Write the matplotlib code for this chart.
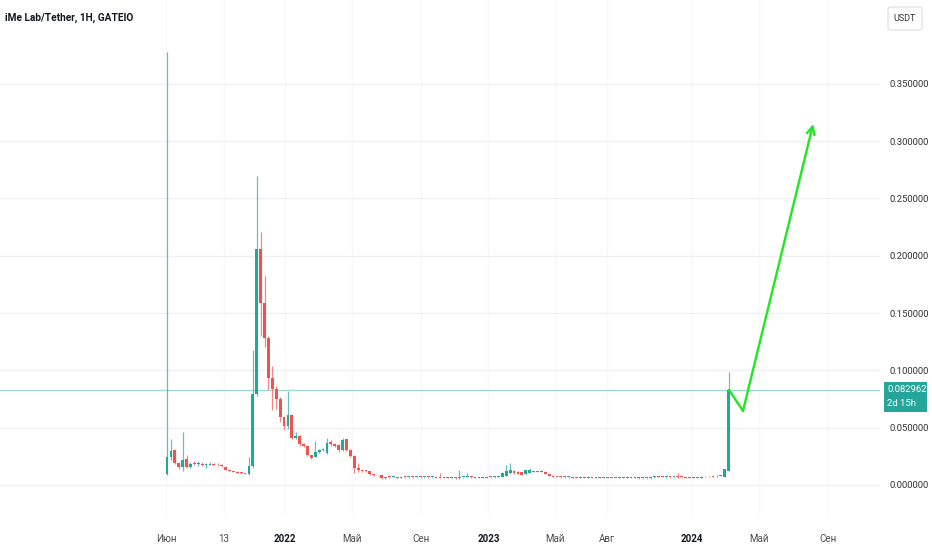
import numpy as np
import pandas as pd
import matplotlib
matplotlib.use("Agg")
import matplotlib.pyplot as plt
import matplotlib.dates as mdates
from matplotlib.patches import FancyBboxPatch, Rectangle

# weekly candles, first one in early June 2021
first_candle = "2021-06-03"

opens = [
    .0096, .0244, .0305, .0192, .0157, .0225, .0160, .0185, .0180, .0185,
    .0175, .0178, .0182, .0176, .0172, .0160, .0131, .0122, .0113, .0108,
    .0102, .0096, .0166, .0794, .206, .159, .128, .0934, .0838, .075,
    .0593, .0515, .0611, .0410, .0428, .0358, .0340, .0262, .0244, .0288,
    .0305, .0279, .0375, .0358, .0349, .0305, .0402, .0305, .0253, .0148,
    .0131, .0125, .0120, .0096, .0087, .0087, .0061, .0068, .0066, .0068,
    .0065, .0067, .0066, .0069, .0066, .0068, .0067, .0069, .0066, .0067,
    .0068, .0063, .0066, .0062, .0065, .0058, .0066, .0069, .0071, .0067,
    .0064, .0062, .0065, .0068, .0066, .0070, .0072, .0079, .0107, .0125,
    .0116, .0110, .0093, .0107, .0116, .0116, .0116, .0116, .0093, .0081,
    .0072, .0070, .0068, .0066, .0067, .0065, .0064, .0065, .0063, .0064,
    .0062, .0063, .0062, .0063, .0061, .0062, .0061, .0063, .0062, .0063,
    .0061, .0063, .0058, .0060, .0058, .0068, .0075, .0070, .0068, .0069,
    .0067, .0072, .0068, .0066, .0065, .0063, .0064, .0063, .0078, .0078,
    .0078, .0074, .0080, .0072, .0125,
]
closes = [
    .0244, .0297, .0192, .0157, .0218, .0157, .0185, .0180, .0185, .0175,
    .0178, .0182, .0176, .0170, .0166, .0131, .0122, .0113, .0108, .0102,
    .0096, .0166, .0794, .206, .159, .128, .0934, .0838, .075, .0593,
    .0515, .0611, .0410, .0428, .0358, .0340, .0262, .0235, .0288, .0305,
    .0314, .0367, .0358, .0340, .0305, .0393, .0305, .0253, .0148, .0131,
    .0125, .0120, .0096, .0087, .0083, .0061, .0068, .0066, .0068, .0065,
    .0067, .0066, .0069, .0066, .0068, .0067, .0069, .0066, .0067, .0064,
    .0063, .0066, .0062, .0065, .0058, .0066, .0069, .0071, .0067, .0064,
    .0062, .0065, .0068, .0066, .0070, .0072, .0102, .0125, .0131, .0102,
    .0096, .0090, .0131, .0131, .0122, .0122, .0125, .0096, .0078, .0072,
    .0070, .0068, .0066, .0067, .0065, .0064, .0065, .0063, .0064, .0062,
    .0063, .0062, .0063, .0061, .0062, .0061, .0063, .0062, .0063, .0061,
    .0063, .0058, .0060, .0058, .0072, .0075, .0070, .0068, .0069, .0067,
    .0070, .0068, .0066, .0065, .0063, .0064, .0063, .0072, .0074, .0074,
    .0072, .0081, .0084, .0137, .082962,
]
highs = [
    .378, .0400, .0310, .0200, .0462, .0260, .0200, .0210, .0205, .0200,
    .0195, .0200, .0195, .0190, .0185, .0165, .0135, .0126, .0118, .0112,
    .0106, .0244, .118, .270, .221, .182, .130, .104, .086, .077,
    .060, .082, .062, .0462, .0440, .0365, .0345, .0265, .0384, .0310,
    .0320, .0410, .0395, .0370, .0360, .0410, .0405, .0310, .0260, .0192,
    .0140, .0130, .0125, .0100, .0090, .0090, .0072, .0072, .0072, .0071,
    .0070, .0070, .0072, .0072, .0070, .0071, .0072, .0072, .0070, .0070,
    .0107, .0068, .0069, .0067, .0068, .0131, .0072, .0107, .0075, .0070,
    .0067, .0068, .0072, .0070, .0073, .0076, .0110, .0175, .0190, .0130,
    .0120, .0114, .0135, .0148, .0125, .0126, .0128, .0120, .0097, .0085,
    .0075, .0073, .0071, .0070, .0070, .0068, .0068, .0068, .0067, .0067,
    .0066, .0066, .0066, .0066, .0065, .0065, .0066, .0066, .0066, .0066,
    .0066, .0066, .0063, .0063, .0081, .0079, .0078, .0073, .0072, .0072,
    .0073, .0107, .0071, .0069, .0068, .0067, .0067, .0075, .0081, .0080,
    .0080, .0085, .0088, .0140, .0986,
]
lows = [
    .0090, .0220, .0180, .0140, .0120, .0150, .0150, .0170, .0165, .0165,
    .0150, .0170, .0170, .0165, .0160, .0128, .0118, .0110, .0104, .0098,
    .0092, .0090, .0150, .0780, .130, .120, .083, .0654, .066, .055,
    .0480, .0490, .0400, .0400, .0340, .0330, .0250, .0227, .0240, .0280,
    .0295, .0270, .0340, .0330, .0290, .0300, .0295, .0240, .0105, .0113,
    .0115, .0110, .0090, .0080, .0075, .0055, .0055, .0062, .0062, .0061,
    .0061, .0062, .0063, .0063, .0062, .0064, .0063, .0063, .0062, .0061,
    .0060, .0059, .0059, .0059, .0055, .0055, .0063, .0066, .0064, .0061,
    .0059, .0059, .0062, .0063, .0063, .0068, .0068, .0075, .0100, .0095,
    .0092, .0086, .0090, .0102, .0112, .0112, .0112, .0092, .0074, .0068,
    .0067, .0065, .0063, .0063, .0062, .0061, .0061, .0060, .0060, .0059,
    .0059, .0059, .0059, .0058, .0058, .0058, .0058, .0059, .0059, .0058,
    .0058, .0056, .0055, .0055, .0055, .0065, .0067, .0066, .0065, .0064,
    .0064, .0065, .0063, .0062, .0061, .0060, .0060, .0061, .0071, .0071,
    .0069, .0071, .0077, .0070, .0120,
]

last_price = 0.082962
countdown = "2d 15h"
price_ticks = [0.0, 0.05, 0.10, 0.15, 0.20, 0.25, 0.30, 0.35]

tick_dates = ["2021-06-01", "2021-09-13", "2022-01-01", "2022-05-01", "2022-09-01",
              "2023-01-01", "2023-05-01", "2023-08-01", "2024-01-01", "2024-05-01",
              "2024-09-01"]
tick_labels = ["Июн", "13", "2022", "Май", "Сен", "2023", "Май", "Авг", "2024", "Май", "Сен"]

# hand drawn forecast arrow
arrow_dates = ["2024-03-08", "2024-04-02", "2024-08-06"]
arrow_prices = [0.082962, 0.0646, 0.315]

UP = "#26a69a"
DOWN = "#ef5350"

plt.rcParams["font.family"] = ["Roboto", "DejaVu Sans"]

W, H = 932, 550
fig = plt.figure(figsize=(W / 100, H / 100), dpi=100)
ax = fig.add_axes([0, 35 / H, 880 / W, 515 / H])

dates = mdates.date2num(pd.date_range(first_candle, periods=len(closes), freq="7D"))
o = np.array(opens)
c = np.array(closes)
colors = np.where(c >= o, UP, DOWN)

ax.vlines(dates, lows, highs, colors=colors, linewidth=0.9, alpha=0.7, zorder=3)
bottoms = np.minimum(o, c)
heights = np.maximum(np.abs(c - o), 0.0008)
ax.bar(dates, heights, bottom=bottoms, width=5, color=colors, linewidth=0, zorder=4)

ax.axhline(last_price, color="#a3dbd4", linewidth=1, zorder=2)

ad = mdates.date2num(pd.to_datetime(arrow_dates))
ax.plot(ad[:2], arrow_prices[:2], color="#22e622", linewidth=1.7, zorder=5,
        solid_capstyle="round")
ax.annotate("", xy=(ad[2], arrow_prices[2]), xytext=(ad[1], arrow_prices[1]),
            arrowprops=dict(arrowstyle="->", color="#22e622", lw=1.7,
                            mutation_scale=14, shrinkA=0, shrinkB=0), zorder=5)

ax.set_xlim(mdates.date2num(pd.Timestamp("2020-08-07")),
            mdates.date2num(pd.Timestamp("2024-12-04")))
ax.set_ylim(-0.0262, 0.4232)

for s in ax.spines.values():
    s.set_visible(False)

ax.yaxis.tick_right()
ax.set_yticks(price_ticks)
ax.set_yticklabels([f"{v:.6f}" for v in price_ticks])
ax.tick_params(axis="y", length=0, pad=7, labelsize=6.8, labelcolor="#333333")

td = mdates.date2num(pd.to_datetime(tick_dates))
ax.set_xticks(td)
ax.set_xticklabels(tick_labels)
ax.tick_params(axis="x", length=0, pad=14, labelsize=7, labelcolor="#4a4a4a")
for lbl in ax.get_xticklabels():
    if lbl.get_text().isdigit() and len(lbl.get_text()) == 4:
        lbl.set_fontweight("bold")
        lbl.set_color("#131722")

ax.grid(axis="y", color="#eef0f4", linewidth=1)
ax.grid(axis="x", color="#f8f8fa", linewidth=1)
ax.set_axisbelow(True)

fig.text(5 / W, 1 - 18 / H, "iMe Lab/Tether, 1H, GATEIO", fontsize=7.3,
         fontweight="bold", color="#131722", va="center", ha="left")

# currency box at top right
fig.patches.append(FancyBboxPatch((888 / W, 1 - 30 / H), 34 / W, 23 / H,
                                  boxstyle="round,pad=0,rounding_size=0.004",
                                  transform=fig.transFigure, facecolor="white",
                                  edgecolor="#e0e3eb", linewidth=1))
fig.text(905 / W, 1 - 18.5 / H, "USDT", fontsize=6.5, color="#333333",
         ha="center", va="center")

# last price badge
fig.patches.append(Rectangle((884 / W, 1 - 412 / H), 43 / W, 30 / H,
                             transform=fig.transFigure, facecolor=UP,
                             edgecolor="none"))
fig.text(887 / W, 1 - 389.5 / H, f"{last_price:.6f}", fontsize=6.8, color="white",
         ha="left", va="center")
fig.text(887 / W, 1 - 404 / H, countdown, fontsize=6.8, color="white",
         ha="left", va="center")

fig.savefig("out.png", dpi=100, facecolor="white")
